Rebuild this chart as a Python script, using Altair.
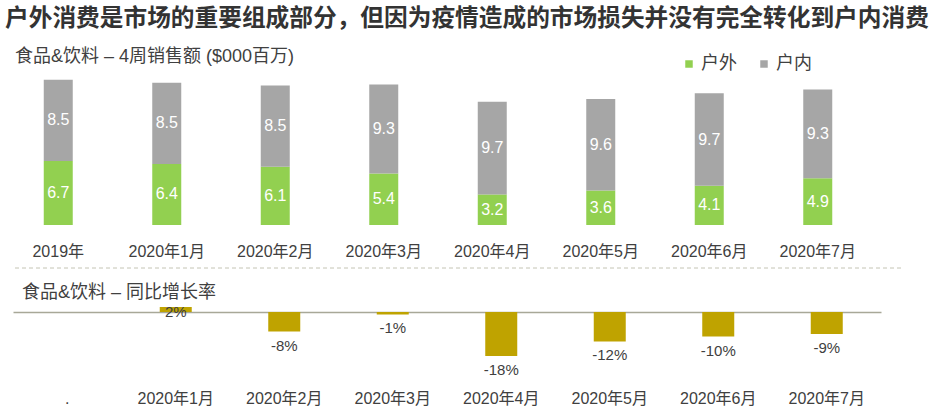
import altair as alt
import pandas as pd

# ---- data ----
periods = ["2019年", "2020年1月", "2020年2月", "2020年3月",
           "2020年4月", "2020年5月", "2020年6月", "2020年7月"]
outdoor = [6.7, 6.4, 6.1, 5.4, 3.2, 3.6, 4.1, 4.9]
indoor = [8.5, 8.5, 8.5, 9.3, 9.7, 9.6, 9.7, 9.3]
series_names = ["户外", "户内"]

growth_periods = [".", "2020年1月", "2020年2月", "2020年3月",
                  "2020年4月", "2020年5月", "2020年6月", "2020年7月"]
growth = [None, 2, -8, -1, -18, -12, -10, -9]

title_text = "户外消费是市场的重要组成部分，但因为疫情造成的市场损失并没有完全转化到户内消费"
subtitles = ["食品&饮料 – 4周销售额 ($000百万)", "食品&饮料 – 同比增长率"]

# ---- tables ----
rows = []
for p, o, i in zip(periods, outdoor, indoor):
    rows.append({"period": p, "series": series_names[0], "y0": 0, "y1": o, "mid": o / 2, "val": o})
    rows.append({"period": p, "series": series_names[1], "y0": o, "y1": o + i, "mid": o + i / 2, "val": i})
sales = pd.DataFrame(rows)

gdf = pd.DataFrame({"period": growth_periods, "growth": growth})
gdf["label"] = [("" if v is None else f"{v}%") for v in growth]
gdf["ly"] = [(0 if (v is None or v >= 0) else v) for v in growth]

PT = 40  # top padding (title area)
FONT = "Liberation Sans, Noto Sans CJK SC"
TXT = "#404040"

# ---- top chart ----
xs_top = alt.X("period:N", sort=periods, title=None,
               scale=alt.Scale(range=[4, 872], paddingInner=0, paddingOuter=0),
               axis=alt.Axis(orient="bottom", offset=225 - 409, domain=False, ticks=False,
                             labelPadding=26, labelBaseline="middle", labelAngle=0,
                             labelFontSize=16, labelColor=TXT, labelFont=FONT, grid=False))
ys_top = alt.Scale(domain=[0, 16], range=[225 - PT, 225 - PT - 9.55 * 16])

bars_top = alt.Chart(sales).mark_bar(size=29).encode(
    x=xs_top,
    y=alt.Y("y0:Q", scale=ys_top, axis=None),
    y2="y1:Q",
    color=alt.Color("series:N",
                    scale=alt.Scale(domain=series_names, range=["#92D050", "#A6A6A6"]),
                    legend=alt.Legend(orient="none", legendX=680, legendY=65 - PT - 10,
                                      direction="horizontal", title=None, symbolType="square",
                                      symbolSize=56, symbolStrokeWidth=0, labelFontSize=18,
                                      labelFont=FONT, labelColor=TXT, labelOffset=3,
                                      columnPadding=18)),
)
labels_top = alt.Chart(sales).mark_text(color="white", fontSize=16, font=FONT,
                                         baseline="middle").encode(
    x=alt.X("period:N", sort=periods),
    y=alt.Y("mid:Q", scale=ys_top),
    text=alt.Text("val:Q", format=".1f"),
)
top = alt.layer(bars_top, labels_top)

# ---- bottom chart ----
xs_bot = alt.X("period:N", sort=growth_periods, title=None,
               scale=alt.Scale(range=[13, 881], paddingInner=0, paddingOuter=0),
               axis=alt.Axis(orient="bottom", offset=312 - 409, domain=True, domainColor="#A8A898",
                             domainWidth=1.5, ticks=False, labelPadding=86, labelBaseline="middle",
                             labelAngle=0, labelFontSize=16, labelColor=TXT, labelFont=FONT,
                             grid=False))
ys_bot = alt.Scale(domain=[-25, 5], range=[312 - PT + 25 * 2.45, 312 - PT - 5 * 2.45])

bars_bot = alt.Chart(gdf).mark_bar(size=32, color="#BFA300").encode(
    x=xs_bot,
    y=alt.Y("growth:Q", scale=ys_bot, axis=None),
    y2=alt.datum(0),
)
labels_neg = alt.Chart(gdf).transform_filter("datum.growth < 0").mark_text(
    color=TXT, fontSize=15, font=FONT, baseline="middle", dy=14).encode(
    x=alt.X("period:N", sort=growth_periods),
    y=alt.Y("ly:Q", scale=ys_bot),
    text="label:N",
)
labels_pos = alt.Chart(gdf).transform_filter("datum.growth >= 0").mark_text(
    color=TXT, fontSize=15, font=FONT, baseline="middle").encode(
    x=alt.X("period:N", sort=growth_periods),
    y=alt.Y("ly:Q", scale=ys_bot),
    text="label:N",
)
bottom = alt.layer(bars_bot, labels_neg, labels_pos)

# ---- decorations ----
sub_df = pd.DataFrame({"t": subtitles})
sub_top = alt.Chart(sub_df.iloc[[0]]).mark_text(align="left", baseline="middle", fontSize=18,
                                                 font=FONT, color=TXT).encode(
    x=alt.value(15), y=alt.value(57 - PT), text="t:N")
sub_bot = alt.Chart(sub_df.iloc[[1]]).mark_text(align="left", baseline="middle", fontSize=18,
                                                 font=FONT, color=TXT).encode(
    x=alt.value(22), y=alt.value(293 - PT), text="t:N")
dash = alt.Chart(alt.Data(values=[{}])).mark_rule(color="#C4C4B4", strokeDash=[4, 3],
                                                  strokeWidth=1).encode(
    x=alt.value(15), x2=alt.value(902), y=alt.value(268 - PT))

chart = alt.layer(top, bottom, dash, sub_top, sub_bot).resolve_scale(
    x="independent", y="independent"
).resolve_axis(x="independent", y="independent").properties(
    width=934, height=409 - PT,
    padding={"left": 0, "top": PT, "right": 0, "bottom": 0},
    autosize=alt.AutoSizeParams(type="none"),
    title=alt.Title(title_text, anchor="start", frame="group", orient="top", offset=9,
                    fontSize=23.7, fontWeight="bold", font="Noto Sans CJK SC", color="#333333",
                    dx=5),
).configure_view(stroke=None)

chart.save("out.html", embed_options={"renderer": "svg", "actions": False})
